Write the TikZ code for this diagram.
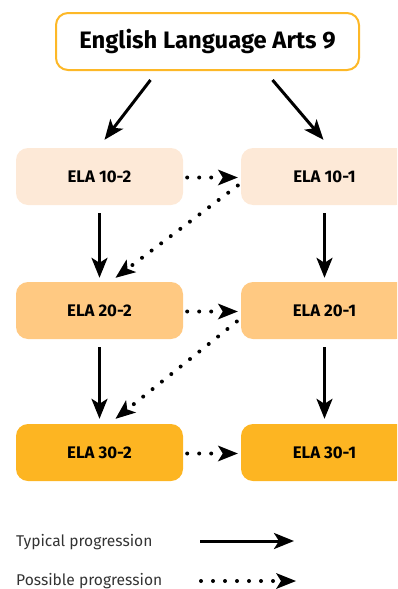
\documentclass[tikz,border=0pt]{standalone}
\usepackage{fontspec}
\setmainfont{Fira Sans}
\usetikzlibrary{arrows.meta}
\definecolor{titleline}{HTML}{FDB827}
\definecolor{rowone}{HTML}{FDE9D7}
\definecolor{rowtwo}{HTML}{FFC982}
\definecolor{rowthree}{HTML}{FDB522}
\tikzset{
  course/.style={rounded corners=12pt, minimum width=167pt, minimum height=57pt,
    inner sep=0pt, font=\fontsize{16.8}{20}\selectfont\bfseries},
  typical/.style={line width=3pt, -{Stealth[length=20pt,width=16pt,inset=5pt]}},
  possible/.style={line width=4pt, line cap=round, dash pattern=on 0pt off 12pt,
    -{Stealth[length=20pt,width=16pt,inset=5pt,line width=0pt]}},
  legendtext/.style={anchor=west, inner sep=0pt, text=black!80,
    font=\fontsize{15.6}{18}\selectfont}
}
\begin{document}
\begin{tikzpicture}[x=1pt,y=-1pt]
  \useasboundingbox (0,0) rectangle (397,589);
  \clip (0,0) rectangle (397,589);
  \node[draw=titleline, line width=2pt, fill=white, rounded corners=12pt,
    minimum width=303pt, minimum height=57pt, inner sep=0pt,
    font=\fontsize{23.8}{28}\selectfont\bfseries] (title) at (207.5,41.5) {English Language Arts 9};
  \node[course, fill=rowone] (e102) at (99.5,176.5) {ELA 10-2};
  \node[course, fill=rowone] (e101) at (324.5,176.5) {ELA 10-1};
  \node[course, fill=rowtwo] (e202) at (99.5,310.5) {ELA 20-2};
  \node[course, fill=rowtwo] (e201) at (324.5,310.5) {ELA 20-1};
  \node[course, fill=rowthree] (e302) at (99.5,452.5) {ELA 30-2};
  \node[course, fill=rowthree] (e301) at (324.5,452.5) {ELA 30-1};
  % typical progression
  \draw[typical] ([xshift=-57pt,yshift=-9pt]title.south) -- ([xshift=5pt,yshift=8pt]e102.north);
  \draw[typical] ([xshift=65pt,yshift=-9pt]title.south) -- ([xshift=-1pt,yshift=8pt]e101.north);
  \draw[typical] ([yshift=-8pt]e102.south) -- ([yshift=4pt]e202.north);
  \draw[typical] ([yshift=-8pt]e101.south) -- ([yshift=4pt]e201.north);
  \draw[typical] ([yshift=-8pt]e202.south) -- ([yshift=5pt]e302.north);
  \draw[typical] ([yshift=-8pt]e201.south) -- ([yshift=5pt]e301.north);
  % possible progression
  \draw[possible] ([xshift=4pt,yshift=-1pt]e102.east) -- ([xshift=-3pt,yshift=-1pt]e101.west);
  \draw[possible] ([xshift=4pt,yshift=-1pt]e202.east) -- ([xshift=-3pt,yshift=-1pt]e201.west);
  \draw[possible] ([xshift=4pt,yshift=-1pt]e302.east) -- ([xshift=-3pt,yshift=-1pt]e301.west);
  \draw[possible] ([xshift=-3pt,yshift=-9pt]e101.west) -- ([xshift=16pt,yshift=4pt]e202.north);
  \draw[possible] ([xshift=-4pt,yshift=-11pt]e201.west) -- ([xshift=16pt,yshift=5pt]e302.north);
  % legend
  \node[legendtext] (typ) at (16,542) {Typical progression};
  \node[legendtext] (pos) at (16,581) {Possible progression};
  \coordinate (typa) at (200,541);
  \coordinate (typb) at (294,541);
  \coordinate (posa) at (201,581);
  \coordinate (posb) at (296,581);
  \draw[typical] (typa) -- (typb);
  \draw[possible] (posa) -- (posb);
\end{tikzpicture}
\end{document}
